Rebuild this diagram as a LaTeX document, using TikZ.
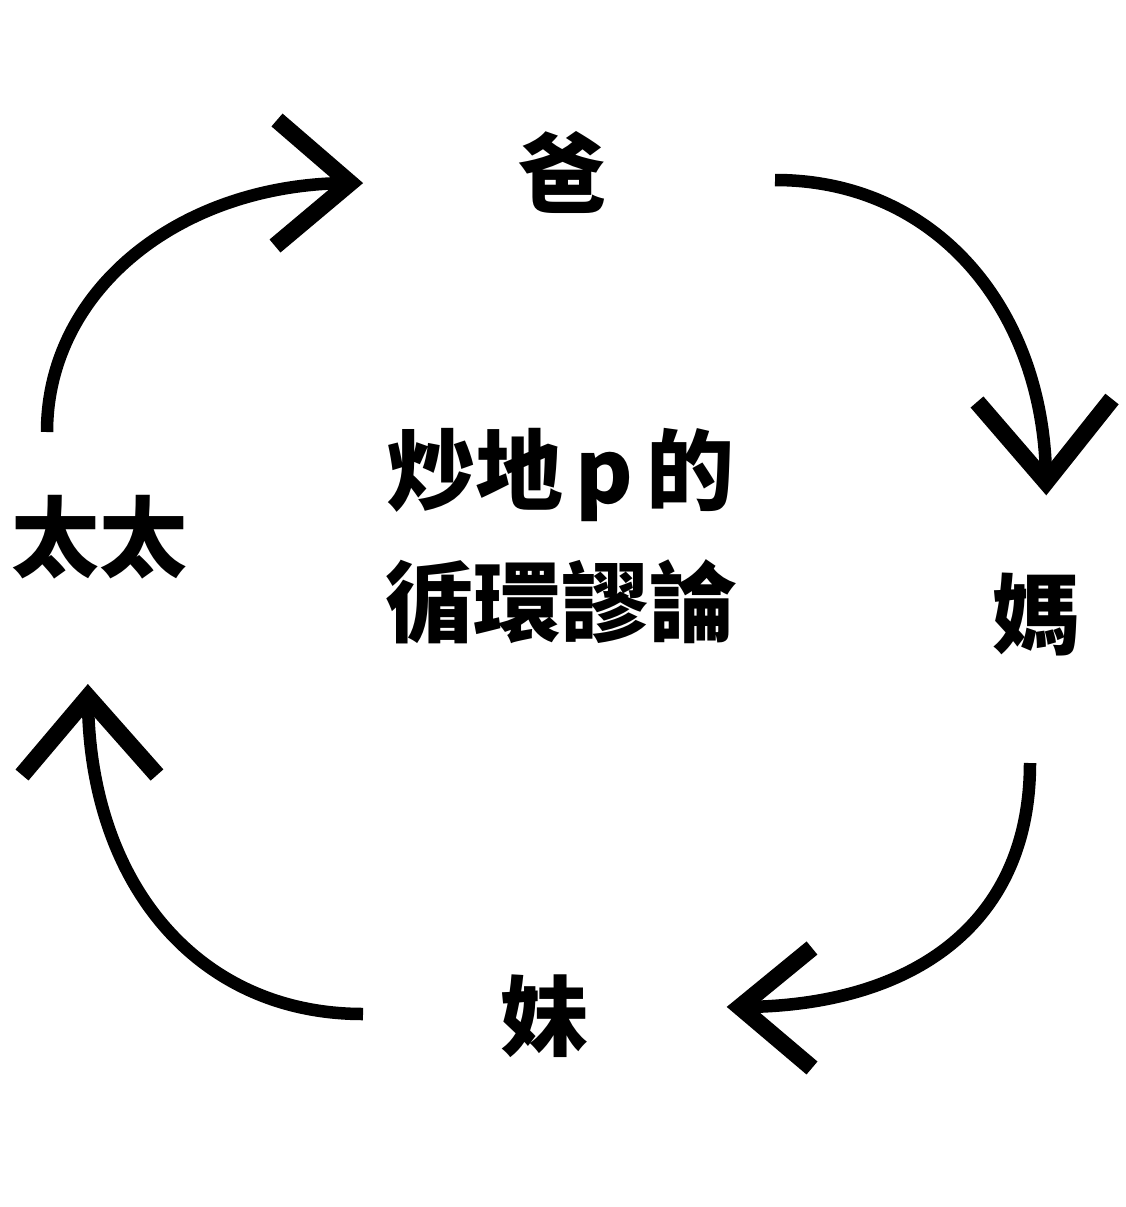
\documentclass[tikz,border=0pt]{standalone}
\usepackage{fontspec}
\newfontfamily\cjk{Noto Sans CJK TC}
\begin{document}
\begin{tikzpicture}[x=1pt,y=-1pt,
  lbl/.style={font=\cjk\bfseries\fontsize{88}{88}\selectfont, inner sep=0pt, anchor=center},
  curve/.style={line width=12.5pt, line cap=butt, black},
  chev/.style={line width=17pt, line join=miter, line cap=butt, black}]
\useasboundingbox (0,0) rectangle (1125,1207);
\fill[white] (0,0) rectangle (1125,1207);
% labels
\node[lbl] (ba) at (562,172) {爸};
\node[lbl] (ma) at (1036,615) {媽};
\node[lbl] (mei) at (544,1016) {妹};
\node[lbl] (tt) at (100,537) {太太};
\node[lbl, align=center] (title) at (561,536) {炒地\hspace{0.14em}p\hspace{0.14em}的\\[0.42em]循環謬論};
% arrow 1: 太太 -> 爸
\coordinate (a1s) at (47,432);
\coordinate (a1e) at (350,183);
\coordinate (a1u) at (277,120);
\coordinate (a1d) at (275,246);
\draw[curve] (a1s) .. controls (47,290) and (180,183) .. (a1e);
\draw[chev] (a1u) -- (a1e) -- (a1d);
% arrow 2: 爸 -> 媽
\coordinate (a2s) at (775,180);
\coordinate (a2e) at (1046,482);
\coordinate (a2l) at (977,402);
\coordinate (a2r) at (1112,399);
\draw[curve] (a2s) .. controls (940,180) and (1046,315) .. (a2e);
\draw[chev] (a2l) -- (a2e) -- (a2r);
% arrow 3: 媽 -> 妹
\coordinate (a3s) at (1030,763);
\coordinate (a3e) at (740,1007);
\coordinate (a3u) at (812,948);
\coordinate (a3d) at (812,1068);
\draw[curve] (a3s) .. controls (1030,930) and (905,1007) .. (a3e);
\draw[chev] (a3u) -- (a3e) -- (a3d);
% arrow 4: 妹 -> 太太
\coordinate (a4s) at (363,1014);
\coordinate (a4e) at (88,697);
\coordinate (a4l) at (22,775);
\coordinate (a4r) at (157,775);
\draw[curve] (a4s) .. controls (195,1014) and (88,880) .. (a4e);
\draw[chev] (a4l) -- (a4e) -- (a4r);
\end{tikzpicture}
\end{document}
